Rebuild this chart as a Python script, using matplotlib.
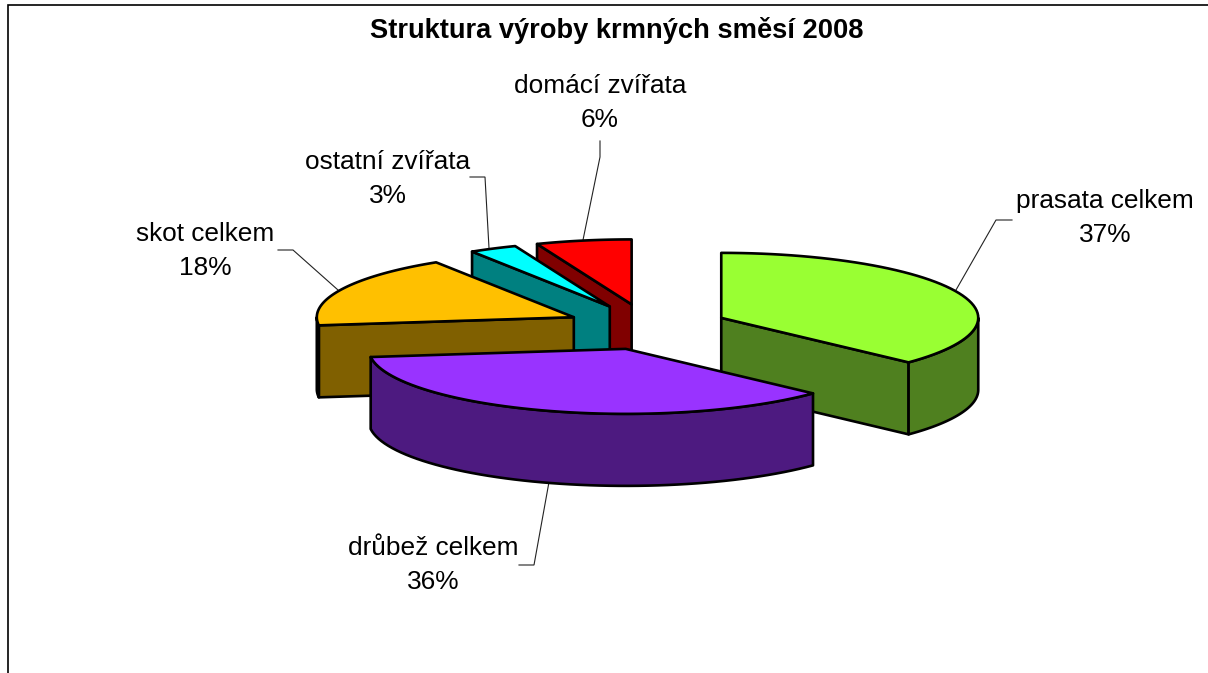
import numpy as np
import matplotlib
matplotlib.use('Agg')
import matplotlib.pyplot as plt
from matplotlib.patches import Polygon

categories = ['prasata celkem', 'drůbež celkem', 'skot celkem', 'ostatní zvířata', 'domácí zvířata']
shares = [37, 36, 18, 3, 6]
top_colors = ['#99FF33', '#9933FF', '#FFC000', '#00FFFF', '#FF0000']
side_colors = ['#4F801F', '#4D1A80', '#806000', '#008080', '#800000']

# pie geometry in pixels
CX, CY = 647, 327
RX, RY = 257, 65
EX, EY = 82, 23
DEPTH = 72
EDGE = 1.9
nudge_x = [-1, 4, 1, 0, 0]

label_pos = [(1105, 218), (433, 565), (205, 251), (388, 179), (600, 103)]
leaders = [
    [(1012, 220), (996, 220), (956, 290)],
    [(519, 565), (534, 565), (549, 482)],
    [(278, 250), (293, 250), (338, 290)],
    [(470, 177), (485, 177), (489, 248)],
    [(600, 141), (600, 157), (583, 240)],
]

fig = plt.figure(figsize=(12.08, 6.73), dpi=100)
ax = fig.add_axes([0, 0, 1, 1])
ax.set_xlim(0, 1208)
ax.set_ylim(673, 0)
ax.axis('off')


def rim(a0, a1, x0, y0):
    t = np.radians(np.linspace(a0, a1, 60))
    return np.column_stack([x0 + RX * np.sin(t), y0 - RY * np.cos(t)])


def poly(points, color, z):
    ax.add_patch(Polygon(points, closed=True, facecolor=color, edgecolor='black',
                         linewidth=EDGE, joinstyle='round', zorder=z))


def draw_slice(i, z):
    a0, a1 = starts[i], starts[i] + shares[i] * 3.6
    mid = np.radians((a0 + a1) / 2)
    x0 = CX + EX * np.sin(mid) + nudge_x[i]
    y0 = CY - EY * np.cos(mid)

    # cut faces that turn towards the viewer
    for a, show in ((a0, np.sin(np.radians(a0)) < -1e-6), (a1, np.sin(np.radians(a1)) > 1e-6)):
        if show:
            p = rim(a, a, x0, y0)[0]
            poly([(x0, y0), p, (p[0], p[1] + DEPTH), (x0, y0 + DEPTH)], side_colors[i], z)

    # outer wall, front half of the ellipse only
    lo, hi = max(a0, 90), min(a1, 270)
    if lo < hi:
        r = rim(lo, hi, x0, y0)
        poly(np.vstack([r, (r[::-1] + [0, DEPTH])]), side_colors[i], z)

    poly(np.vstack([[(x0, y0)], rim(a0, a1, x0, y0)]), top_colors[i], z + 0.5)


starts = np.concatenate([[0], np.cumsum(shares)[:-1]]) * 3.6

# back slices first, drůbež goes over everything
for z, i in enumerate([4, 3, 2, 0, 1]):
    draw_slice(i, z + 2)

for line in leaders:
    xs, ys = zip(*line)
    ax.plot(xs, ys, color='#222222', lw=0.8, zorder=1.5, solid_joinstyle='miter')

for name, share, (x, y) in zip(categories, shares, label_pos):
    ax.text(x, y, f'{name}\n{share}%', ha='center', va='center', fontsize=18.9,
            family='Liberation Sans', color='black', linespacing=1.48)

ax.text(617, 30, 'Struktura výroby krmných směsí 2008', ha='center', va='center',
        fontsize=19.6, fontweight='bold', family='Liberation Sans', color='black')

# chart frame, only top and left are in the picture
ax.plot([7.5, 7.5, 1208], [673, 5, 5], color='black', lw=1.2, solid_joinstyle='miter')

fig.savefig('out.png', dpi=100, facecolor='white')
